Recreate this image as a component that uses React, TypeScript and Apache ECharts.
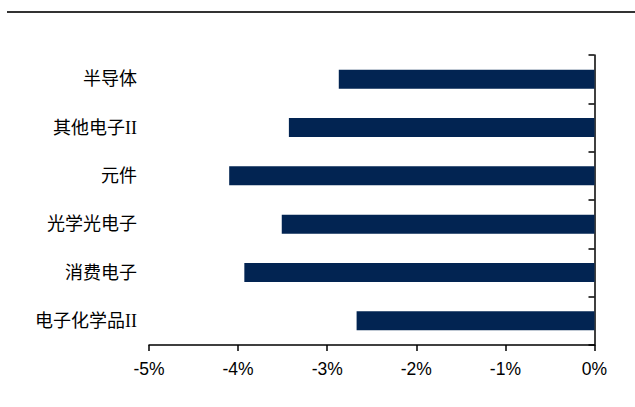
import React, { useEffect, useRef } from "react";
import * as echarts from "echarts";

const categories = ["半导体", "其他电子II", "元件", "光学光电子", "消费电子", "电子化学品II"];
const values = [-2.87, -3.43, -4.1, -3.51, -3.93, -2.67];
const xTicks = [-5, -4, -3, -2, -1, 0];

export default function App() {
  const ref = useRef<HTMLDivElement>(null);
  useEffect(() => {
    const chart = echarts.init(ref.current!, null, { renderer: "svg" });
    chart.setOption({
      animation: false,
      backgroundColor: "#ffffff",
      grid: { left: 149, right: 40.5, top: 55, bottom: 62, containLabel: false },
      graphic: [
        {
          type: "line",
          shape: { x1: 7, y1: 12, x2: 635, y2: 12 },
          style: { stroke: "#333333", lineWidth: 2 },
        },
      ],
      xAxis: {
        type: "value",
        min: xTicks[0],
        max: xTicks[xTicks.length - 1],
        interval: 1,
        splitLine: { show: false },
        axisLine: { show: true, onZero: false, lineStyle: { color: "#000", width: 1.5 } },
        axisTick: { show: true, length: 6, lineStyle: { color: "#000", width: 1.5 } },
        axisLabel: {
          color: "#000",
          fontSize: 17.5,
          fontFamily: "'Liberation Sans', Arial, sans-serif",
          margin: 15,
          formatter: (v: number) => `${v}%`,
        },
      },
      yAxis: [
        {
          type: "category",
          data: categories,
          inverse: true,
          position: "left",
          axisLine: { show: false },
          axisTick: { show: false },
          axisLabel: {
            color: "#000",
            fontSize: 18,
            fontFamily: "'Liberation Serif', 'Noto Sans CJK SC', serif",
            margin: 12,
          },
        },
        {
          type: "category",
          data: categories,
          inverse: true,
          position: "right",
          axisLine: { show: true, onZero: false, lineStyle: { color: "#000", width: 1.5 } },
          axisTick: { show: true, inside: true, length: 6, lineStyle: { color: "#000", width: 1.5 } },
          axisLabel: { show: false },
        },
      ],
      series: [
        {
          type: "bar",
          data: values,
          yAxisIndex: 0,
          barWidth: 19,
          itemStyle: { color: "#022452" },
        },
      ],
    });
    return () => chart.dispose();
  }, []);
  return (
    <div
      ref={ref}
      style={{ position: "absolute", left: 0, top: 0, width: 635, height: 407 }}
    />
  );
}
